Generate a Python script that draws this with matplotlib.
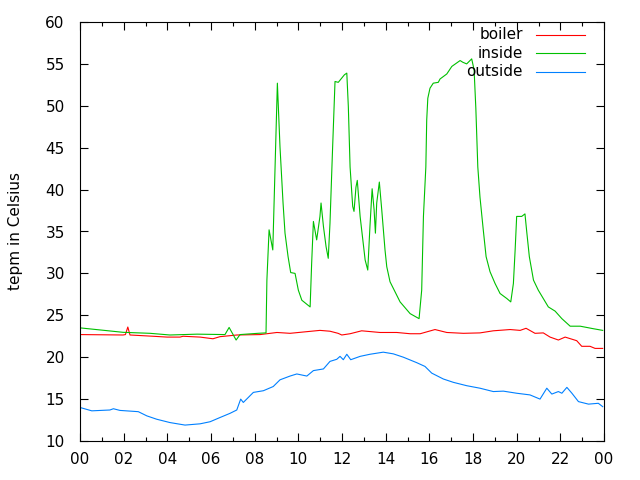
import matplotlib
matplotlib.use("Agg")
import matplotlib.pyplot as plt
from matplotlib.ticker import MultipleLocator, FuncFormatter

# hours of the day
inside_h = [0.00, 1.97, 3.21, 4.12, 5.36, 6.64, 6.83, 7.15, 7.33, 8.15, 8.52, 8.56,
            8.66, 8.83, 9.04, 9.16, 9.30, 9.39, 9.53, 9.65, 9.85, 10.00, 10.16, 10.54,
            10.61, 10.69, 10.84, 10.99, 11.04, 11.15, 11.27, 11.37, 11.45, 11.56, 11.68,
            11.83, 12.11, 12.22, 12.29, 12.37, 12.49, 12.55, 12.64, 12.70, 12.83, 13.06,
            13.18, 13.28, 13.38, 13.47, 13.53, 13.59, 13.71, 13.82, 13.97, 14.05, 14.20,
            14.66, 15.12, 15.53, 15.65, 15.73, 15.84, 15.88, 15.93, 16.03, 16.18, 16.41,
            16.49, 16.80, 17.03, 17.41, 17.53, 17.71, 17.94, 18.05, 18.13, 18.22, 18.32,
            18.47, 18.60, 18.78, 19.01, 19.24, 19.55, 19.73, 19.85, 19.93, 20.00, 20.23,
            20.38, 20.46, 20.58, 20.77, 20.99, 21.22, 21.45, 21.76, 22.07, 22.45, 22.91,
            23.51, 23.94]
inside_t = [23.5, 22.97, 22.85, 22.65, 22.75, 22.7, 23.55, 22.05, 22.7, 22.85, 22.9, 29.2,
            35.2, 32.8, 52.7, 45.1, 38.4, 34.8, 32.0, 30.1, 30.0, 28.0, 26.8, 26.0,
            31.2, 36.2, 34.0, 36.8, 38.4, 35.6, 33.2, 31.8, 36.0, 44.3, 52.9,
            52.8, 53.7, 53.9, 49.9, 42.7, 38.0, 37.4, 40.3, 41.1, 36.8, 31.6,
            30.4, 35.6, 40.1, 37.6, 34.8, 38.4, 40.9, 37.6, 32.8, 30.8, 29.0,
            26.6, 25.2, 24.6, 28.0, 36.8, 42.7, 48.3, 50.9, 52.1, 52.7, 52.8,
            53.2, 53.8, 54.7, 55.4, 55.2, 55.0, 55.6, 54.3, 49.7, 42.7, 39.1,
            35.2, 32.0, 30.2, 28.8, 27.6, 27.0, 26.6, 28.8, 32.8, 36.8, 36.8,
            37.1, 35.0, 32.0, 29.2, 28.0, 27.0, 26.0, 25.5, 24.6, 23.7, 23.7,
            23.4, 23.2]

boiler_h = [0.00, 1.97, 2.08, 2.19, 2.29, 3.34, 3.99, 4.58, 4.72, 5.50, 6.09, 6.41,
            7.19, 8.25, 9.02, 9.62, 10.40, 10.99, 11.45, 11.82, 11.99, 12.37, 12.90,
            13.74, 14.51, 15.12, 15.58, 16.26, 16.80, 17.56, 18.32, 18.93, 19.70, 20.16,
            20.43, 20.84, 21.22, 21.53, 21.91, 22.22, 22.75, 22.98, 23.36, 23.59, 23.94]
boiler_t = [22.7, 22.65, 22.7, 23.6, 22.65, 22.5, 22.4, 22.4, 22.5, 22.4, 22.2, 22.45,
            22.65, 22.7, 22.95, 22.85, 23.05, 23.2, 23.1, 22.85, 22.65, 22.8, 23.15,
            22.95, 22.95, 22.8, 22.8, 23.3, 22.95, 22.85, 22.9, 23.15, 23.3, 23.2,
            23.45, 22.85, 22.9, 22.4, 22.05, 22.4, 21.97, 21.3, 21.3, 21.05, 21.05]

outside_h = [0.00, 0.54, 1.37, 1.53, 1.83, 2.67, 3.06, 3.51, 4.12, 4.81, 5.50, 5.96,
             6.41, 6.87, 7.18, 7.36, 7.48, 7.94, 8.40, 8.85, 9.16, 9.62, 9.93, 10.39,
             10.69, 11.15, 11.45, 11.76, 11.91, 12.06, 12.22, 12.40, 12.83, 13.28, 13.89,
             14.35, 14.81, 15.42, 15.80, 16.11, 16.64, 17.10, 17.71, 18.32, 18.93, 19.39,
             20.00, 20.61, 21.07, 21.38, 21.61, 21.91, 22.07, 22.30, 22.53, 22.83, 23.29,
             23.74, 23.94]
outside_t = [14.0, 13.6, 13.7, 13.85, 13.65, 13.5, 13.0, 12.6, 12.2, 11.9, 12.05, 12.3,
             12.8, 13.3, 13.7, 15.0, 14.6, 15.8, 16.0, 16.5, 17.3, 17.75, 18.0, 17.75,
             18.4, 18.6, 19.5, 19.75, 20.1, 19.7, 20.35, 19.7, 20.1, 20.35, 20.6,
             20.4, 20.0, 19.35, 18.9, 18.1, 17.4, 17.0, 16.6, 16.3, 15.9, 15.95,
             15.7, 15.5, 15.0, 16.3, 15.6, 15.9, 15.7, 16.4, 15.7, 14.7, 14.4,
             14.5, 14.1]

series = [("boiler", boiler_h, boiler_t, "#ff0000"),
          ("inside", inside_h, inside_t, "#00c000"),
          ("outside", outside_h, outside_t, "#0080ff")]

plt.rcParams['font.family'] = ['DejaVu Sans']
plt.rcParams['font.size'] = 11

fig = plt.figure(figsize=(6.4, 4.8), dpi=100)
ax = fig.add_axes([80 / 640, 39 / 480, 524 / 640, 419 / 480])

for name, h, t, c in series:
    ax.plot(h, t, color=c, linewidth=0.8)

ax.set_xlim(0, 24)
ax.set_ylim(10, 60)
ax.xaxis.set_major_locator(MultipleLocator(2))
ax.xaxis.set_minor_locator(MultipleLocator(1))
ax.yaxis.set_major_locator(MultipleLocator(5))
ax.xaxis.set_major_formatter(FuncFormatter(lambda v, p: "%02d" % (int(round(v)) % 24)))
ax.tick_params(which='both', direction='in', top=True, right=True, color='black')
ax.tick_params(which='major', length=6, width=0.8)
ax.tick_params(which='minor', length=3, width=0.8)
ax.tick_params(axis='y', pad=11)
ax.tick_params(axis='x', pad=8)
for s in ax.spines.values():
    s.set_linewidth(0.8)
ax.set_ylabel("tepm in Celsius", labelpad=16)

# key, gnuplot style: text right-justified, sample line after it
key_y = [0.969, 0.926, 0.881]
for (name, h, t, c), ky in zip(series, key_y):
    ax.text(0.845, ky, name, transform=ax.transAxes, ha='right', va='center')
    ax.plot([0.870, 0.964], [ky, ky], transform=ax.transAxes, color=c, linewidth=0.8)

fig.savefig("out.png", dpi=100)
